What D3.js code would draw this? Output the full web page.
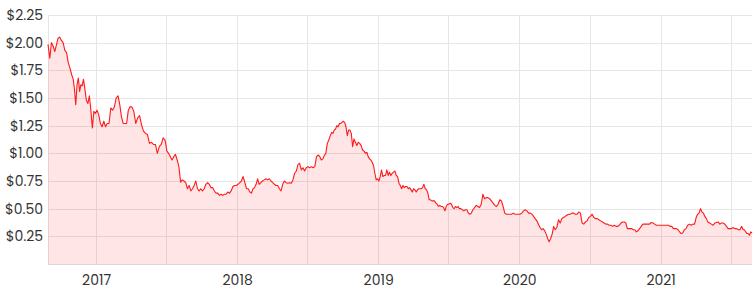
<!DOCTYPE html>
<html>
<head>
<meta charset="utf-8">
<script src="https://cdn.jsdelivr.net/npm/d3@7"></script>
<style>
  body { margin: 0; background: #fff; }
  svg text { font-family: Poppins, "Open Sans", sans-serif; font-size: 14px; fill: #333; }
</style>
</head>
<body>
<div id="chart"></div>
<script>
const width = 756;
const height = 295;
const margin = { top: 15, right: 4, bottom: 31, left: 48 };

// first and last trading day shown
const startDay = "2016-08-27";
const endDay = "2021-08-27";

// readings per month, in order across the month
const months = [
  "2016-08", "2016-09", "2016-10", "2016-11", "2016-12",
  "2017-01", "2017-02", "2017-03", "2017-04", "2017-05", "2017-06",
  "2017-07", "2017-08", "2017-09", "2017-10", "2017-11", "2017-12",
  "2018-01", "2018-02", "2018-03", "2018-04", "2018-05", "2018-06",
  "2018-07", "2018-08", "2018-09", "2018-10", "2018-11", "2018-12",
  "2019-01", "2019-02", "2019-03", "2019-04", "2019-05", "2019-06",
  "2019-07", "2019-08", "2019-09", "2019-10", "2019-11", "2019-12",
  "2020-01", "2020-02", "2020-03", "2020-04", "2020-05", "2020-06",
  "2020-07", "2020-08", "2020-09", "2020-10", "2020-11", "2020-12",
  "2021-01", "2021-02", "2021-03", "2021-04", "2021-05", "2021-06",
  "2021-07", "2021-08"
];

const prices = [
  [1.985],
  [1.86, 2.00, 1.97, 1.92, 1.98, 2.04, 2.05],
  [2.02, 2.00, 1.93, 1.91, 1.82, 1.77, 1.71],
  [1.67, 1.58, 1.44, 1.62, 1.68, 1.56, 1.62, 1.61, 1.67],
  [1.58, 1.48, 1.45, 1.52, 1.39, 1.23, 1.38, 1.36],
  [1.39, 1.35, 1.27, 1.24, 1.29, 1.24, 1.27],
  [1.27, 1.41, 1.39, 1.42, 1.50, 1.52],
  [1.44, 1.33, 1.27, 1.27, 1.27, 1.39, 1.42],
  [1.42, 1.38, 1.27, 1.32, 1.34, 1.26],
  [1.20, 1.18, 1.17, 1.09, 1.10, 1.08],
  [1.08, 1.00, 1.06, 1.08, 1.14, 1.12],
  [1.02, 1.00, 0.97, 0.94, 0.97, 0.99, 0.94],
  [0.88, 0.74, 0.76, 0.75, 0.735, 0.68, 0.71],
  [0.66, 0.68, 0.71, 0.75, 0.68, 0.66, 0.68],
  [0.66, 0.68, 0.72, 0.735, 0.72, 0.69, 0.69],
  [0.66, 0.64, 0.64, 0.62, 0.63, 0.62, 0.63],
  [0.63, 0.65, 0.64, 0.66, 0.70, 0.71, 0.71],
  [0.72, 0.735, 0.75, 0.79, 0.735, 0.68, 0.68],
  [0.65, 0.64, 0.68, 0.69, 0.72, 0.77, 0.72],
  [0.735, 0.75, 0.76, 0.77, 0.76, 0.77, 0.75],
  [0.735, 0.72, 0.71, 0.71, 0.68, 0.66, 0.72],
  [0.75, 0.735, 0.73, 0.735, 0.73, 0.76, 0.82],
  [0.84, 0.90, 0.91, 0.85, 0.87, 0.84, 0.87],
  [0.88, 0.87, 0.88, 0.87, 0.88, 0.97, 0.985],
  [0.97, 0.94, 0.95, 0.98, 1.00, 1.09, 1.12, 1.16],
  [1.19, 1.18, 1.21, 1.22, 1.25, 1.24, 1.27, 1.27, 1.28],
  [1.29, 1.28, 1.24, 1.16, 1.21, 1.21, 1.18, 1.06, 1.13],
  [1.10, 1.07, 1.10, 1.09, 1.07, 1.03, 1.02, 1.00],
  [1.01, 0.97, 0.95, 0.94, 0.92, 0.89, 0.82, 0.76, 0.77],
  [0.75, 0.79, 0.85, 0.79, 0.80, 0.80, 0.85, 0.80, 0.83],
  [0.80, 0.82, 0.83, 0.84, 0.80, 0.79, 0.73, 0.71],
  [0.68, 0.71, 0.69, 0.70, 0.70, 0.68, 0.69, 0.67, 0.65],
  [0.68, 0.67, 0.65, 0.67, 0.68, 0.68, 0.68, 0.69, 0.72],
  [0.68, 0.67, 0.64, 0.58, 0.58, 0.57, 0.57, 0.57, 0.55],
  [0.54, 0.52, 0.53, 0.52, 0.52, 0.51, 0.48, 0.52, 0.54],
  [0.54, 0.55, 0.54, 0.51, 0.50, 0.52, 0.51, 0.52, 0.50],
  [0.50, 0.49, 0.48, 0.49, 0.49, 0.46, 0.45, 0.46],
  [0.49, 0.51, 0.53, 0.52, 0.51, 0.54, 0.63],
  [0.59, 0.60, 0.60, 0.59, 0.57, 0.55, 0.53],
  [0.52, 0.54, 0.58, 0.57, 0.52, 0.46, 0.45],
  [0.45, 0.45, 0.45, 0.46, 0.45, 0.45, 0.45],
  [0.45, 0.46, 0.48, 0.49, 0.48, 0.46, 0.46],
  [0.45, 0.43, 0.41, 0.39, 0.36, 0.33, 0.31],
  [0.32, 0.30, 0.27, 0.23, 0.20, 0.23, 0.27, 0.34],
  [0.31, 0.33, 0.40, 0.37, 0.41, 0.42, 0.43],
  [0.44, 0.45, 0.45, 0.46, 0.46, 0.45, 0.45],
  [0.47, 0.46, 0.37, 0.36, 0.38, 0.39, 0.42],
  [0.43, 0.45, 0.42, 0.41, 0.41, 0.40, 0.39],
  [0.38, 0.37, 0.36, 0.36, 0.35, 0.35, 0.34],
  [0.35, 0.34, 0.34, 0.35, 0.37, 0.38, 0.38],
  [0.37, 0.32, 0.32, 0.32, 0.32, 0.31, 0.31, 0.29],
  [0.30, 0.32, 0.34, 0.36, 0.36, 0.36, 0.36],
  [0.36, 0.375, 0.37, 0.36, 0.35, 0.35, 0.35],
  [0.35, 0.35, 0.35, 0.35, 0.35, 0.34, 0.34],
  [0.32, 0.32, 0.32, 0.31, 0.29, 0.275, 0.28],
  [0.31, 0.32, 0.35, 0.36, 0.35, 0.36, 0.36],
  [0.42, 0.45, 0.46, 0.50, 0.47, 0.46, 0.43, 0.41],
  [0.38, 0.37, 0.36, 0.35, 0.37, 0.375, 0.38],
  [0.36, 0.37, 0.37, 0.36, 0.34, 0.32, 0.32],
  [0.32, 0.33, 0.32, 0.32, 0.31, 0.31, 0.34],
  [0.31, 0.31, 0.29, 0.275, 0.275, 0.26, 0.29, 0.28]
];

// axis ticks
const priceTicks = [0.25, 0.50, 0.75, 1.00, 1.25, 1.50, 1.75, 2.00, 2.25];
const yearTicks = ["2017", "2018", "2019", "2020", "2021"];
const gridDays = [
  "2017-01-01", "2017-07-01", "2018-01-01", "2018-07-01", "2019-01-01",
  "2019-07-01", "2020-01-01", "2020-07-01", "2021-01-01", "2021-07-01"
];

const parseDay = d3.timeParse("%Y-%m-%d");
const parseMonth = d3.timeParse("%Y-%m");
const parseYear = d3.timeParse("%Y");
const first = parseDay(startDay), last = parseDay(endDay);

// spread each month's readings over the part of the month that is shown
const points = [];
months.forEach((m, i) => {
  const m0 = parseMonth(m);
  const a = Math.max(+m0, +first);
  const b = Math.min(+d3.timeMonth.offset(m0, 1), +last);
  const vals = prices[i];
  vals.forEach((v, j) => {
    points.push({ date: new Date(a + (b - a) * (j + 0.5) / vals.length), value: v });
  });
});

const svg = d3.select("#chart")
  .append("svg")
  .attr("width", width)
  .attr("height", height);

const x = d3.scaleTime()
  .domain(d3.extent(points, d => d.date))
  .range([margin.left, width - margin.right]);

const y = d3.scaleLinear()
  .domain([0, 2.25])
  .range([height - margin.bottom, margin.top]);

const x0 = margin.left, x1 = width - margin.right;
const yBottom = height - margin.bottom;

// grid
const grid = svg.append("g").attr("stroke", "#e6e6e6").attr("stroke-width", 1);
grid.selectAll(".hgrid")
  .data(priceTicks)
  .enter().append("line")
    .attr("x1", x0).attr("x2", x1)
    .attr("y1", d => Math.round(y(d)) + 0.5)
    .attr("y2", d => Math.round(y(d)) + 0.5);
grid.selectAll(".vgrid")
  .data(gridDays)
  .enter().append("line")
    .attr("x1", d => Math.round(x(parseDay(d))) + 0.5)
    .attr("x2", d => Math.round(x(parseDay(d))) + 0.5)
    .attr("y1", margin.top).attr("y2", yBottom);
grid.append("line")
  .attr("x1", x0 + 0.5).attr("x2", x0 + 0.5)
  .attr("y1", margin.top).attr("y2", yBottom);

// area under the price
const area = d3.area()
  .x(d => x(d.date))
  .y0(yBottom)
  .y1(d => y(d.value));

svg.append("path")
  .datum(points)
  .attr("fill", "rgba(255, 0, 0, 0.1)")
  .attr("d", area);

const line = d3.line()
  .x(d => x(d.date))
  .y(d => y(d.value));

svg.append("path")
  .datum(points)
  .attr("fill", "none")
  .attr("stroke", "#ff1a1a")
  .attr("stroke-width", 1.1)
  .attr("stroke-linejoin", "round")
  .attr("d", line);

// bottom baseline
svg.append("line")
  .attr("x1", x0).attr("x2", x1)
  .attr("y1", yBottom + 0.5).attr("y2", yBottom + 0.5)
  .attr("stroke", "#e0d4d4");

// y axis labels
const yAxis = d3.axisLeft(y)
  .tickValues(priceTicks)
  .tickSize(0)
  .tickPadding(5)
  .tickFormat(d => "$" + d3.format(".2f")(d));

svg.append("g")
  .attr("transform", `translate(${x0},0)`)
  .call(yAxis)
  .call(g => g.select(".domain").remove())
  .selectAll("text")
    .attr("font-family", null)
    .attr("font-size", null);

// x axis labels
const xAxis = d3.axisBottom(x)
  .tickValues(yearTicks.map(parseYear))
  .tickSize(0)
  .tickPadding(11)
  .tickFormat(d3.timeFormat("%Y"));

svg.append("g")
  .attr("transform", `translate(0,${yBottom})`)
  .call(xAxis)
  .call(g => g.select(".domain").remove())
  .selectAll("text")
    .attr("font-family", null)
    .attr("font-size", null);
</script>
</body>
</html>
